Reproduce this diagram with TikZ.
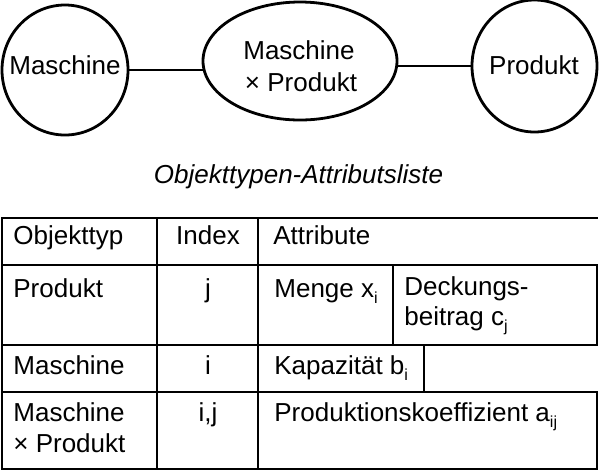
\documentclass[tikz,border=0pt]{standalone}
\usepackage{fontspec}
\setmainfont{Liberation Sans}
\usetikzlibrary{shapes.geometric}
\newcommand\mysub[1]{\raisebox{-0.45ex}{\fontsize{8pt}{8pt}\selectfont #1}}
\begin{document}
\begin{tikzpicture}[x=0.5pt,y=-0.5pt,
  oval/.style={draw, ellipse, line width=1.4pt, inner sep=0pt, outer sep=0pt},
  txt/.style={inner sep=0pt, font=\fontsize{13pt}{16pt}\selectfont},
  cell/.style={txt, anchor=base west},
  ccell/.style={txt, anchor=base},
  rule/.style={line width=1.4pt, line cap=rect},
  link/.style={line width=1.4pt}]
\useasboundingbox (0,0) rectangle (600,473);
% top graph
\node[oval, minimum width=63pt, minimum height=65pt] (m) at (65,70) {};
\node[oval, minimum width=97pt, minimum height=59pt] (mp) at (300,61) {};
\node[oval, minimum width=62.5pt, minimum height=66pt] (p) at (534.5,66) {};
\node[ccell] (mtxt) at (65,74) {Maschine};
\node[ccell] (mptxt1) at (299,59) {Maschine};
\node[ccell] (mptxt2) at (301,91) {× Produkt};
\node[ccell] (ptxt) at (534,74) {Produkt};
\draw[link] (m.east) -- (m.east -| mp.west);
\draw[link] (p.west) -- (p.west -| mp.east);
% title
\node[ccell, font=\fontsize{13pt}{16pt}\selectfont\itshape] (title) at (298.5,183) {Objekttypen-Attributsliste};
% table lines
\draw[rule] (2,218) -- (597,218);
\draw[rule] (2,265) -- (597,265);
\draw[rule] (2,345) -- (597,345);
\draw[rule] (2,392) -- (597,392);
\draw[rule] (2,469) -- (597,469);
\draw[rule] (2,218) -- (2,469);
\draw[rule] (157,218) -- (157,469);
\draw[rule] (258,218) -- (258,469);
\draw[rule] (393,265) -- (393,345);
\draw[rule] (424,345) -- (424,392);
\draw[rule] (597,265) -- (597,345);
\draw[rule] (597,392) -- (597,469);
% table texts
\node[cell] (h1) at (13,244) {Objekttyp};
\node[ccell] (h2) at (208,244) {Index};
\node[cell] (h3) at (273,244) {Attribute};
\node[cell] (r1a) at (13,297) {Produkt};
\node[ccell] (r1b) at (208,297) {j};
\node[cell] (r1c) at (274,297) {Menge x\mysub{i}};
\node[cell] (r1d) at (404,295) {Deckungs-};
\node[cell] (r1e) at (404,325) {beitrag c\mysub{j}};
\node[cell] (r2a) at (13,374) {Maschine};
\node[ccell] (r2b) at (208,374) {i};
\node[cell] (r2c) at (274,374) {Kapazität b\mysub{i}};
\node[cell] (r3a) at (13,421) {Maschine};
\node[cell] (r3a2) at (13,452) {× Produkt};
\node[ccell] (r3b) at (208,421) {i,j};
\node[cell] (r3c) at (274,421) {Produktionskoeffizient a\mysub{ij}};
\end{tikzpicture}
\end{document}
